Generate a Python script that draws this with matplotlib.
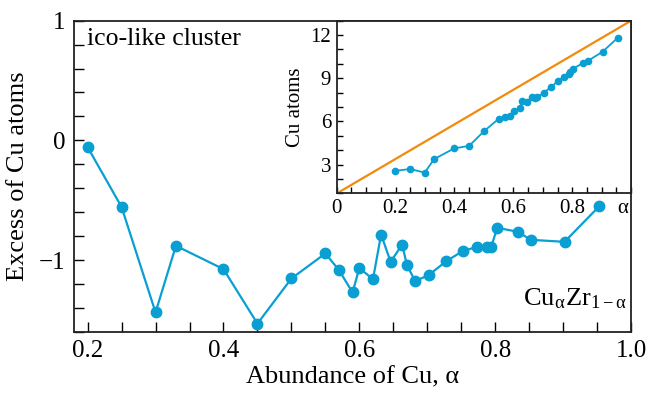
import matplotlib

matplotlib.use("Agg")
import matplotlib.pyplot as plt
from matplotlib.ticker import MultipleLocator

# Main panel: excess of Cu atoms vs Cu abundance
alpha = [0.20, 0.25, 0.30, 0.33, 0.40, 0.45, 0.50, 0.55, 0.57, 0.59,
         0.60, 0.62, 0.632, 0.646, 0.663, 0.67, 0.682, 0.702, 0.728, 0.752,
         0.773, 0.788, 0.794, 0.803, 0.834, 0.852, 0.902, 0.953]
excess = [-0.056, -0.556, -1.436, -0.88, -1.075, -1.53, -1.153, -0.944, -1.083, -1.27,
          -1.065, -1.16, -0.786, -1.014, -0.87, -1.04, -1.175, -1.125, -1.008, -0.925,
          -0.889, -0.889, -0.889, -0.73, -0.764, -0.83, -0.847, -0.55]

# Inset: number of Cu atoms vs abundance
alpha_in = [0.198, 0.249, 0.299, 0.331, 0.399, 0.45, 0.50, 0.551, 0.571, 0.589,
            0.601, 0.621, 0.631, 0.647, 0.662, 0.672, 0.680, 0.703, 0.729, 0.752,
            0.771, 0.788, 0.794, 0.803, 0.837, 0.854, 0.903, 0.954]
cu_atoms = [2.57, 2.70, 2.45, 3.39, 4.13, 4.31, 5.32, 6.20, 6.34, 6.38,
            6.72, 6.91, 7.39, 7.37, 7.69, 7.66, 7.67, 7.99, 8.41, 8.82,
            9.10, 9.32, 9.44, 9.67, 10.06, 10.22, 10.84, 11.80]
ref_x = [0.0, 1.0]
ref_y = [1.0, 13.0]
inset_xticks = [0, 0.2, 0.4, 0.6, 0.8]

plt.rcParams["font.family"] = ["Liberation Serif", "DejaVu Serif"]
plt.rcParams["mathtext.fontset"] = "stix"

blue = "#0a9fd2"
orange = "#f28a0c"

fig = plt.figure(figsize=(6.52, 3.97), dpi=100)
ax = fig.add_axes([0.1135, 0.1637, 0.8545, 0.7843])
ax.plot(alpha, excess, "-o", color=blue, linewidth=1.6, markersize=7.5)
ax.set_xlim(0.18, 1.0)
ax.set_ylim(-1.6, 1.0)
ax.xaxis.set_major_locator(MultipleLocator(0.2))
ax.xaxis.set_minor_locator(MultipleLocator(0.05))
ax.yaxis.set_minor_locator(MultipleLocator(0.2))
ax.set_yticks([-1, 0, 1])
ax.set_yticklabels(["\u22121", "0", "1"])
ax.tick_params(which="both", direction="in", length=7, width=1,
               labelsize=18, top=False, right=False, pad=6)
ax.set_xlabel("Abundance of Cu, \u03b1", fontsize=19, labelpad=3)
ax.set_ylabel("Excess of Cu atoms", fontsize=19, labelpad=7)
for s in ax.spines.values():
    s.set_linewidth(1.3)
    s.set_color("#222222")
ax.text(0.023, 0.975, "ico-like cluster", transform=ax.transAxes,
        fontsize=18.5, va="top", ha="left")
ax.text(0.992, 0.085, "Cu$_\\mathregular{\u03b1}$Zr$_\\mathregular{1\u2212\u03b1}$",
        transform=ax.transAxes, fontsize=19, va="baseline", ha="right")

ins = fig.add_axes([0.5164, 0.5126, 0.4516, 0.4354])
ins.plot(ref_x, ref_y, color=orange, linewidth=1.6)
ins.plot(alpha_in, cu_atoms, "-o", color=blue, linewidth=1.3, markersize=4.5)
ins.set_xlim(0, 1)
ins.set_ylim(1, 13)
ins.set_xticks(inset_xticks)
ins.set_xticklabels(["0", "0.2", "0.4", "0.6", "0.8"])
ins.xaxis.set_minor_locator(MultipleLocator(0.05))
ins.set_yticks([3, 6, 9, 12])
ins.yaxis.set_minor_locator(MultipleLocator(1))
ins.tick_params(which="both", direction="in", length=4, width=1,
                labelsize=15, top=False, right=False, pad=4)
ins.set_ylabel("Cu atoms", fontsize=15, labelpad=4)
ins.annotate("\u03b1", xy=(0.97, 0), xycoords=ins.get_xaxis_transform(),
             xytext=(0, -4), textcoords="offset points",
             ha="center", va="top", fontsize=15)
for s in ins.spines.values():
    s.set_linewidth(1.3)
    s.set_color("#222222")

fig.savefig("out.png", dpi=100)
